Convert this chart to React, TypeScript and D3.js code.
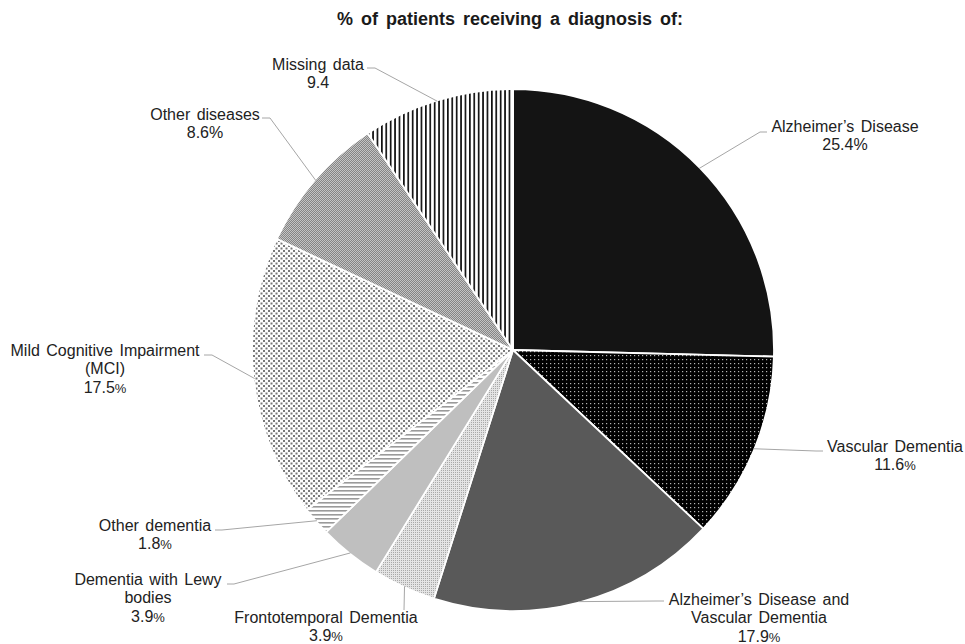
import React from "react";
import * as d3 from "d3";

const title = "% of patients receiving a diagnosis of:";
const categories = [
  "Alzheimer’s Disease",
  "Vascular Dementia",
  "Alzheimer’s Disease and Vascular Dementia",
  "Frontotemporal Dementia",
  "Dementia with Lewy bodies",
  "Other dementia",
  "Mild Cognitive Impairment (MCI)",
  "Other diseases",
  "Missing data",
];
const values = [25.4, 11.6, 17.9, 3.9, 3.9, 1.8, 17.5, 8.6, 9.4];
const valueLabels = ["25.4", "11.6", "17.9", "3.9", "3.9", "1.8", "17.5", "8.6", "9.4"];
const percentSuffix = [true, true, true, true, true, true, true, true, false];

// layout only (label placement, line breaks, fills)
const fills = [
  "#141414",
  "url(#pVasc)",
  "#595959",
  "url(#pFronto)",
  "#bfbfbf",
  "url(#pOtherDem)",
  "url(#pMci)",
  "url(#pOtherDis)",
  "url(#pMissing)",
];
const labelLayout = [
  { lines: ["Alzheimer’s Disease"], cx: 845, y: 132, ax: 767, ay: 132, dx: -7, smallPct: false },
  { lines: ["Vascular Dementia"], cx: 895, y: 452, ax: 823, ay: 451, dx: -7, smallPct: true },
  { lines: ["Alzheimer’s Disease and", "Vascular Dementia"], cx: 759, y: 605, ax: 664, ay: 601, dx: -7, smallPct: true },
  { lines: ["Frontotemporal Dementia"], cx: 326, y: 623, ax: 404, ay: 610, dx: 0, smallPct: true },
  { lines: ["Dementia with Lewy", "bodies"], cx: 148, y: 585, ax: 227, ay: 584, dx: 7, smallPct: true },
  { lines: ["Other dementia"], cx: 155, y: 531, ax: 215, ay: 530, dx: 7, smallPct: true },
  { lines: ["Mild Cognitive Impairment", "(MCI)"], cx: 105, y: 356, ax: 204, ay: 355, dx: 8, smallPct: true },
  { lines: ["Other diseases"], cx: 205, y: 120, ax: 262, ay: 118, dx: 8, smallPct: false },
  { lines: ["Missing data"], cx: 318, y: 70, ax: 367, ay: 68, dx: 8, smallPct: false },
];

const W = 965;
const H = 644;
const CX = 513;
const CY = 350;
const R = 261;
const LH = 18.3;

export default function App() {
  const data = categories.map((c, i) => ({ name: c, value: values[i], i }));
  const pie = d3
    .pie<any>()
    .sort(null)
    .value((d) => d.value)
    .startAngle(0)
    .endAngle(2 * Math.PI);
  const arcs = pie(data);
  const arc = d3.arc<any>().innerRadius(0).outerRadius(R);

  const font = "'Liberation Sans', Arial, sans-serif";

  return (
    <svg
      width={W}
      height={H}
      style={{ position: "absolute", left: 0, top: 0, background: "#fff" }}
      fontFamily={font}
    >
      <defs>
        <pattern id="pVasc" width="4" height="4" patternUnits="userSpaceOnUse">
          <rect width="4" height="4" fill="#000" />
          <rect x="1" y="1" width="1.2" height="1.2" fill="#b5b5b5" />
        </pattern>
        <pattern id="pFronto" width="2" height="2" patternUnits="userSpaceOnUse">
          <rect width="2" height="2" fill="#e4e4e4" />
          <rect x="0" y="0" width="1" height="1" fill="#a8a8a8" />
        </pattern>
        <pattern id="pOtherDem" width="4" height="4" patternUnits="userSpaceOnUse">
          <rect width="4" height="4" fill="#fff" />
          <rect x="0" y="0" width="4" height="1.6" fill="#9a9a9a" />
        </pattern>
        <pattern id="pMci" width="5" height="5" patternUnits="userSpaceOnUse">
          <rect width="5" height="5" fill="#fff" />
          <rect x="0" y="0" width="2" height="2" fill="#777" />
          <rect x="2.5" y="2.5" width="2" height="2" fill="#777" />
        </pattern>
        <pattern id="pOtherDis" width="2" height="2" patternUnits="userSpaceOnUse">
          <rect width="2" height="2" fill="#c4c4c4" />
          <rect x="0" y="0" width="1" height="1" fill="#858585" />
          <rect x="1" y="1" width="1" height="1" fill="#858585" />
        </pattern>
        <pattern id="pMissing" width="4.4" height="4" patternUnits="userSpaceOnUse">
          <rect width="4.4" height="4" fill="#fff" />
          <rect x="0" y="0" width="1.7" height="4" fill="#111" />
        </pattern>
      </defs>

      <text
        x={510}
        y={25}
        textAnchor="middle"
        fontWeight="bold"
        fontSize={18}
        wordSpacing={3}
        fill="#1a1a1a"
      >
        {title}
      </text>

      <g transform={`translate(${CX},${CY})`}>
        {arcs.map((a, i) => (
          <path key={i} d={arc(a) as string} fill={fills[i]} stroke="#fff" strokeWidth={1.8} strokeLinejoin="round" />
        ))}
      </g>

      {arcs.map((a, i) => {
        const L = labelLayout[i];
        const mid = (a.startAngle + a.endAngle) / 2;
        const px = CX + (R - 1) * Math.sin(mid);
        const py = CY - (R - 1) * Math.cos(mid);
        const ex = L.ax + L.dx;
        const pts = `${px},${py} ${ex},${L.ay} ${L.ax},${L.ay}`;
        return <polyline key={"l" + i} points={pts} fill="none" stroke="#a6a6a6" strokeWidth={1} />;
      })}

      {arcs.map((a, i) => {
        const L = labelLayout[i];
        return (
          <text key={"t" + i} textAnchor="middle" fontSize={16} wordSpacing={2} fill="#222">
            {L.lines.map((ln, k) => (
              <tspan key={k} x={L.cx} y={L.y + k * LH}>
                {ln}
              </tspan>
            ))}
            <tspan x={L.cx} y={L.y + L.lines.length * LH}>
              {valueLabels[i]}
              {percentSuffix[i] ? (
                <tspan fontSize={L.smallPct ? 13 : 16}>%</tspan>
              ) : null}
            </tspan>
          </text>
        );
      })}
    </svg>
  );
}
